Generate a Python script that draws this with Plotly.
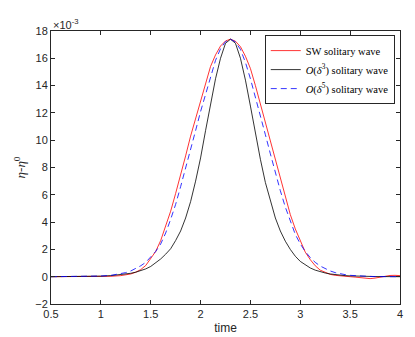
import plotly.graph_objects as go

# time samples (denser around the crest)
time = [0.5, 0.7, 0.9, 1.0, 1.1, 1.2, 1.25, 1.3, 1.35, 1.4, 1.45, 1.5, 1.55, 1.6,
        1.65, 1.7, 1.75, 1.8, 1.85, 1.9, 1.95, 2.0, 2.05, 2.1, 2.15, 2.2, 2.25, 2.3,
        2.35, 2.4, 2.45, 2.5, 2.55, 2.6, 2.65, 2.7, 2.75, 2.8, 2.85, 2.9, 2.95, 3.0,
        3.05, 3.1, 3.15, 3.2, 3.25, 3.3, 3.35, 3.4, 3.45, 3.5, 3.55, 3.6, 3.65, 3.7,
        3.75, 3.8, 3.85, 3.9, 3.95, 4.0]

# eta - eta^0, in units of 1e-3
sw_wave = [0.0, 0.0, 0.005, 0.015, 0.03, 0.08, 0.13, 0.2, 0.33, 0.52, 0.82, 1.3, 1.85, 2.65,
           3.7, 4.8, 6.1, 7.4, 8.85, 10.3, 11.6, 12.9, 14.2, 15.4, 16.25, 16.9, 17.27, 17.4,
           17.25, 16.85, 16.15, 15.25, 14.0, 12.65, 11.3, 9.95, 8.5, 7.1, 5.8, 4.55, 3.5, 2.6,
           1.8, 1.25, 0.8, 0.48, 0.3, 0.17, 0.1, 0.05, 0.02, 0.0, -0.03, -0.08, -0.13, -0.14,
           -0.1, -0.03, 0.04, 0.09, 0.1, 0.08]

o3_wave = [0.0, 0.0, 0.02, 0.04, 0.08, 0.14, 0.19, 0.25, 0.33, 0.43, 0.57, 0.75, 1.0, 1.3,
           1.65, 2.05, 2.65, 3.35, 4.3, 5.5, 7.0, 8.7, 10.7, 12.6, 14.5, 16.0, 17.1, 17.4,
           17.1, 16.0, 14.4, 12.5, 10.5, 8.6, 6.9, 5.5, 4.3, 3.35, 2.6, 2.0, 1.5, 1.12,
           0.85, 0.64, 0.48, 0.36, 0.27, 0.2, 0.15, 0.11, 0.08, 0.06, 0.04, 0.03, 0.02, 0.02,
           0.01, 0.01, 0.01, 0.0, 0.0, 0.0]

o5_wave = [0.0, 0.0, 0.025, 0.05, 0.1, 0.2, 0.3, 0.42, 0.58, 0.8, 1.05, 1.45, 1.85, 2.4,
           3.2, 4.2, 5.3, 6.6, 7.9, 9.3, 10.7, 12.1, 13.4, 14.7, 15.85, 16.7, 17.22, 17.4,
           17.2, 16.65, 15.7, 14.5, 13.2, 11.8, 10.4, 9.0, 7.6, 6.3, 5.1, 4.05, 3.1, 2.4,
           1.85, 1.4, 1.05, 0.78, 0.58, 0.42, 0.3, 0.21, 0.15, 0.1, 0.07, 0.05, 0.03, 0.02,
           0.01, 0.01, 0.0, 0.0, 0.0, 0.0]

x_ticks = [0.5, 1, 1.5, 2, 2.5, 3, 3.5, 4]
y_ticks = [-2, 0, 2, 4, 6, 8, 10, 12, 14, 16, 18]

fig = go.Figure()
fig.add_trace(go.Scatter(x=time, y=sw_wave, mode="lines", name="SW solitary wave",
                         line=dict(color="rgb(255,0,0)", width=0.8)))
fig.add_trace(go.Scatter(x=time, y=o3_wave, mode="lines",
                         name="<i>O</i>(<i>δ</i><sup>3</sup>) solitary wave",
                         line=dict(color="black", width=0.8)))
fig.add_trace(go.Scatter(x=time, y=o5_wave, mode="lines",
                         name="<i>O</i>(<i>δ</i><sup>5</sup>) solitary wave",
                         line=dict(color="rgb(0,0,255)", width=0.8, dash="6px,4px")))

axis_style = dict(showline=True, linecolor="rgb(38,38,38)", linewidth=1, mirror="allticks",
                  ticks="inside", ticklen=4, tickcolor="rgb(38,38,38)", showgrid=False,
                  zeroline=False, tickfont=dict(family="Liberation Sans", size=11, color="rgb(38,38,38)"))

fig.update_xaxes(range=[0.5, 4], tickvals=x_ticks, ticktext=[str(v) for v in x_ticks],
                 title=dict(text="time", standoff=4,
                            font=dict(family="Liberation Sans", size=12, color="rgb(38,38,38)")),
                 **axis_style)
fig.update_yaxes(range=[-2, 18], tickvals=y_ticks,
                 title=dict(text="<i>η</i>-<i>η</i><sup>0</sup>", standoff=6,
                            font=dict(family="Liberation Serif", size=13, color="rgb(38,38,38)")),
                 **axis_style)

fig.add_annotation(text="×10<sup>-3</sup>", xref="paper", yref="paper", x=0, y=1,
                   xanchor="left", yanchor="bottom", showarrow=False, xshift=0, yshift=-2,
                   font=dict(family="Liberation Sans", size=11, color="rgb(38,38,38)"))

fig.update_layout(
    width=415, height=337,
    margin=dict(l=43, r=23, t=23, b=38),
    paper_bgcolor="white", plot_bgcolor="white",
    showlegend=True,
    legend=dict(x=0.985, y=0.985, xanchor="right", yanchor="top",
                bgcolor="white", bordercolor="rgb(38,38,38)", borderwidth=1,
                font=dict(family="Liberation Serif", size=10.5, color="black"),
                itemwidth=30, tracegroupgap=0),
)

fig.write_html("out.html")
